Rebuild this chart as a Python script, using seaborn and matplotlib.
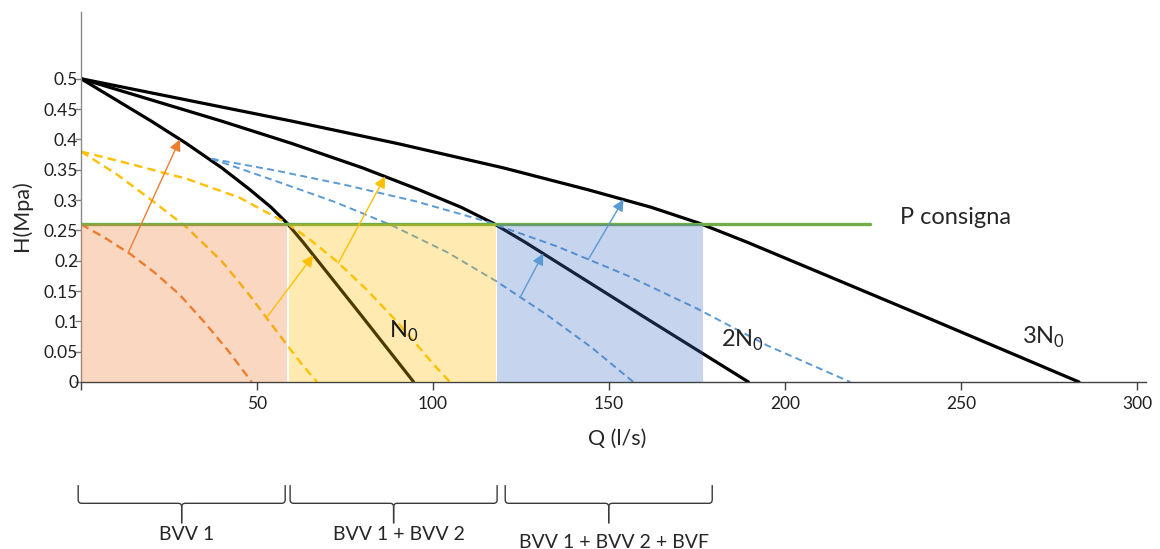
import matplotlib
matplotlib.use("Agg")
import matplotlib.pyplot as plt
import seaborn as sns
from matplotlib.path import Path
from matplotlib.patches import PathPatch

# --- Datos --------------------------------------------------------------
# curvas de bombas a velocidad nominal (N0, 2N0, 3N0)
q_n0 = [0, 10, 20, 30, 40, 48, 54, 58.5, 63, 70, 80, 94.5]
h_n0 = [0.50, 0.465, 0.430, 0.393, 0.353, 0.317, 0.288, 0.262, 0.231, 0.180, 0.107, 0.0]
q_2n0 = [0, 20, 40, 60, 80, 96, 108, 117, 126, 140, 160, 189.6]
h_2n0 = [0.50, 0.465, 0.430, 0.393, 0.353, 0.317, 0.288, 0.262, 0.231, 0.180, 0.107, 0.0]
q_3n0 = [0, 30, 60, 90, 120, 144, 162, 175.5, 189, 210, 240, 283.5]
h_3n0 = [0.50, 0.465, 0.430, 0.393, 0.353, 0.317, 0.288, 0.262, 0.231, 0.180, 0.107, 0.0]

# curvas a velocidad variable (discontinuas)
q_var1 = [0, 7, 14, 21, 28, 35, 42, 48.5]
h_var1 = [0.26, 0.237, 0.211, 0.180, 0.144, 0.099, 0.050, 0.0]
q_var2a = [0, 10, 20, 30, 40, 47.5, 55, 62.5, 67]
h_var2a = [0.38, 0.343, 0.300, 0.255, 0.199, 0.146, 0.088, 0.031, 0.0]
q_var2b = [0, 15, 30, 45, 58.4, 65, 72.6, 81.2, 90.6, 100, 104.8]
h_var2b = [0.38, 0.358, 0.335, 0.304, 0.262, 0.235, 0.199, 0.152, 0.094, 0.030, 0.0]
q_var3a = [37.1, 55, 72, 88, 104, 118, 132, 145, 156.9]
h_var3a = [0.368, 0.332, 0.297, 0.259, 0.214, 0.166, 0.112, 0.057, 0.0]
q_var3b = [37.1, 55, 75, 95, 115, 135, 155, 175, 195, 218.5]
h_var3b = [0.368, 0.349, 0.325, 0.298, 0.265, 0.224, 0.176, 0.121, 0.060, 0.0]

p_consigna = 0.26
q_consigna_max = 224

# zonas de funcionamiento (Q inicio, Q fin)
zonas = [(0, 58.6), (59.2, 118.0), (118.3, 176.7)]
zona_labels = ["BVV 1", "BVV 1 + BVV 2", "BVV 1 + BVV 2 + BVF"]
brace_spans = [(-0.8, 58.0), (59.4, 118.2), (120.5, 179.3)]

# flechas (cola -> punta)
arrow_tails = [(13.4, 0.213), (52.7, 0.106), (73.1, 0.196), (124.7, 0.139), (144.1, 0.202)]
arrow_tips = [(28.1, 0.400), (66.0, 0.209), (86.4, 0.339), (131.3, 0.212), (154.1, 0.301)]

ORANGE = "#ED7D31"
YELLOW = "#FFC000"
BLUE = "#5B9BD5"
GREEN = "#70AD47"
arrow_colors = [ORANGE, YELLOW, YELLOW, BLUE, BLUE]
zona_colors = [ORANGE, YELLOW, "#4472C4"]

sns.set_theme(style="white")
plt.rcParams["font.family"] = ["Lato", "DejaVu Sans"]

fig = plt.figure(figsize=(11.6, 5.49), dpi=100)
ax = fig.add_axes([81 / 1160, 1 - 382 / 549, 1064.6 / 1160, 370 / 549])

# curvas nominales
for q, h in [(q_n0, h_n0), (q_2n0, h_2n0), (q_3n0, h_3n0)]:
    sns.lineplot(x=q, y=h, ax=ax, color="black", lw=2.3, zorder=2)

# curvas velocidad variable
dash = (0, (3.6, 2.2))
for q, h, c, w in [(q_var1, h_var1, ORANGE, 1.7),
                   (q_var2a, h_var2a, YELLOW, 1.7),
                   (q_var2b, h_var2b, YELLOW, 1.7),
                   (q_var3a, h_var3a, BLUE, 1.4),
                   (q_var3b, h_var3b, BLUE, 1.4)]:
    sns.lineplot(x=q, y=h, ax=ax, color=c, lw=w, linestyle=dash, zorder=2)

# presión de consigna
ax.plot([0, q_consigna_max], [p_consigna, p_consigna], color=GREEN, lw=2.4, zorder=2)

# zonas sombreadas (transparentes encima de las curvas)
for (a, b), c in zip(zonas, zona_colors):
    ax.fill_between([a, b], 0, p_consigna, color=c, alpha=0.3, lw=0, zorder=3)

# flechas
for tail, tip, c in zip(arrow_tails, arrow_tips, arrow_colors):
    ax.annotate("", xy=tip, xytext=tail, zorder=4,
                arrowprops=dict(arrowstyle="-|>", color=c, lw=1.0,
                                mutation_scale=17, shrinkA=0, shrinkB=0))

# etiquetas
ax.text(91.8, 0.083, r"N$_\mathregular{0}$", fontsize=17, ha="center", va="center",
        color="#1a1a1a", zorder=5)
ax.text(187.8, 0.069, r"2N$_\mathregular{0}$", fontsize=17, ha="center", va="center", zorder=5)
ax.text(273.3, 0.073, r"3N$_\mathregular{0}$", fontsize=17, ha="center", va="center", zorder=5)
ax.text(232.7, 0.271, "P consigna", fontsize=17, ha="left", va="center")

# ejes
ax.set_xlim(0, 302.4)
ax.set_ylim(0, 0.61)
ax.set_xticks([0, 50, 100, 150, 200, 250, 300])
ax.set_xticklabels(["", "50", "100", "150", "200", "250", "300"])
yt = [0, 0.05, 0.1, 0.15, 0.2, 0.25, 0.3, 0.35, 0.4, 0.45, 0.5]
ax.set_yticks(yt)
ax.set_yticklabels(["0", "0.05", "0.1", "0.15", "0.2", "0.25", "0.3", "0.35", "0.4", "0.45", "0.5"])
ax.tick_params(axis="x", direction="out", length=6, width=1, color="#404040",
               pad=4, labelsize=12.5, labelcolor="#1f1f1f", bottom=True)
ax.tick_params(axis="y", direction="out", length=4, width=1, color="#808080",
               pad=-2, labelsize=12.5, labelcolor="#1f1f1f", left=True)
sns.despine(ax=ax)
ax.spines["left"].set_color("#8a8a8a")
ax.spines["bottom"].set_color("#404040")
ax.spines["left"].set_linewidth(1)
ax.spines["bottom"].set_linewidth(1)
ax.grid(False)
ax.set_xlabel("")
ax.set_ylabel("")

ax.text(-0.0555, 0.45, "H(Mpa)", rotation=90, ha="center", va="center",
        fontsize=15.5, transform=ax.transAxes)
ax.text(0.504, -0.153, "Q (l/s)", ha="center", va="center",
        fontsize=15.5, transform=ax.transAxes)


def draw_brace(ax, x0, x1, y_top=-0.170, y_mid=-0.200, y_tip=-0.233, rx=1.0, ry=0.006):
    xm = (x0 + x1) / 2
    for xa, sgn in [(x0, 1), (x1, -1)]:
        verts = [(xa, y_top), (xa, y_mid + ry), (xa, y_mid), (xa + sgn * rx, y_mid),
                 (xm - sgn * rx, y_mid), (xm, y_mid), (xm, y_mid - ry), (xm, y_tip)]
        codes = [Path.MOVETO, Path.LINETO, Path.CURVE3, Path.CURVE3,
                 Path.LINETO, Path.CURVE3, Path.CURVE3, Path.LINETO]
        patch = PathPatch(Path(verts, codes), fill=False, edgecolor="#3a3a3a",
                          lw=1.0, clip_on=False, transform=ax.transData)
        ax.add_patch(patch)


label_y = [-0.252, -0.252, -0.264]
for (a, b), lab, ly in zip(brace_spans, zona_labels, label_y):
    draw_brace(ax, a, b)
    ax.text((a + b) / 2 + 1.5, ly, lab, ha="center", va="center", fontsize=14,
            clip_on=False)

plt.savefig("out.png", dpi=100)
plt.close()
